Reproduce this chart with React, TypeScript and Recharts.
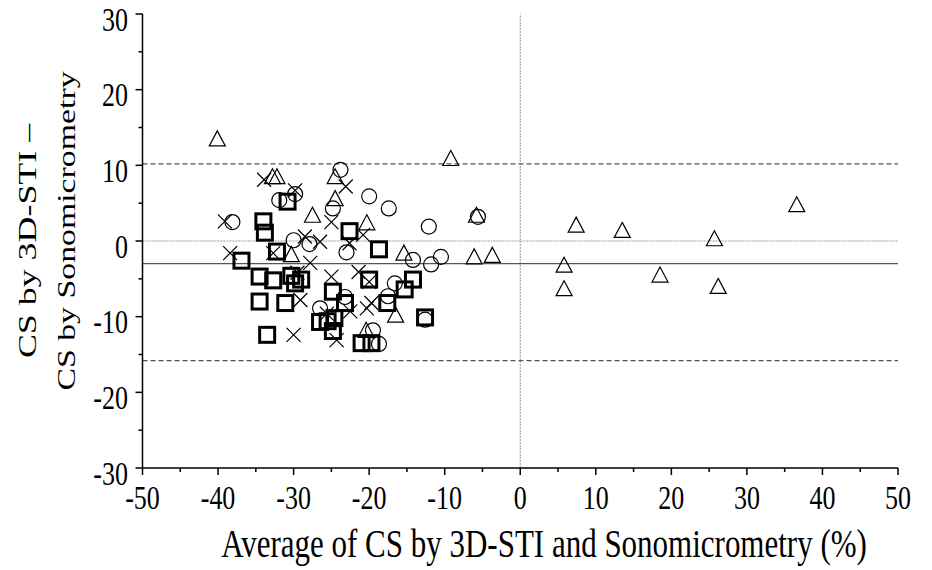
import React from 'react';
import { ScatterChart, Scatter, XAxis, YAxis, ReferenceLine } from 'recharts';

const triangles: [number, number][] = [
  [-40.1, 13.5], [-32.8, 8.5], [-32.2, 8.5], [-27.5, 3.4], [-24.5, 8.5], [-24.5, 5.6],
  [-30.3, -1.8], [-9.2, 10.9], [-20.3, 2.4], [-5.8, 3.4], [-15.4, -1.6], [-6.1, -2.1],
  [-3.7, -1.9], [-16.5, -9.8], [-20.4, -11.8], [7.4, 2.1], [13.5, 1.4], [25.7, 0.3],
  [36.6, 4.8], [5.8, -3.2], [5.8, -6.3], [18.5, -4.5], [26.2, -6.0],
];
const circles: [number, number][] = [
  [-38.1, 2.5], [-31.9, 5.4], [-29.8, 6.2], [-30.0, 0.1], [-27.9, -0.4], [-23.8, 9.4],
  [-24.8, 4.3], [-26.5, -8.9], [-23.0, -1.5], [-20.0, 5.9], [-17.4, 4.3], [-12.1, 1.9],
  [-14.2, -2.5], [-11.8, -3.1], [-10.5, -2.1], [-16.6, -5.6], [-17.5, -7.3], [-23.2, -7.4],
  [-12.6, -10.4], [-19.5, -11.8], [-18.7, -13.6], [-5.6, 3.2],
];
const crosses: [number, number][] = [
  [-39.1, 2.6], [-33.9, 8.1], [-29.8, 6.7], [-38.4, -1.6], [-28.5, 0.6], [-26.5, -0.1],
  [-27.8, -2.9], [-25.0, 2.5], [-32.7, -1.6], [-25.0, -4.7], [-29.1, -7.8], [-30.0, -12.4],
  [-25.6, -9.6], [-24.3, -13.1], [-23.1, 7.2], [-20.8, 0.8], [-22.6, -0.3], [-21.4, -4.1],
  [-20.0, -5.4], [-19.7, -8.2], [-20.3, -8.9], [-22.5, -9.3], [-29.5, -4.2],
];
const squares: [number, number][] = [
  [-30.8, 5.2], [-34.0, 2.6], [-33.8, 1.1], [-32.2, -1.4], [-36.9, -2.6], [-34.5, -4.7],
  [-32.7, -5.2], [-30.3, -4.6], [-29.0, -5.1], [-29.8, -5.6], [-34.5, -8.0], [-31.1, -8.2],
  [-33.5, -12.4], [-24.8, -6.7], [-26.5, -10.7], [-25.5, -10.6], [-24.6, -10.2], [-24.8, -11.9],
  [-23.2, -8.2], [-22.6, 1.3], [-18.7, -1.1], [-20.0, -5.1], [-14.2, -5.1], [-15.3, -6.4],
  [-17.6, -8.2], [-12.6, -10.1], [-21.0, -13.5], [-19.7, -13.5],
];

const xTicks = [-50, -45, -40, -35, -30, -25, -20, -15, -10, -5, 0, 5, 10, 15, 20, 25, 30, 35, 40, 45, 50];
const yTicks = [-30, -25, -20, -15, -10, -5, 0, 5, 10, 15, 20, 25, 30];
const meanDiff = -3.0;
const upperLoA = 10.2;
const lowerLoA = -15.8;

const xTitle = 'Average of CS by 3D-STI and Sonomicrometry (%)';
const yTitle1 = 'CS by 3D-STI –';
const yTitle2 = 'CS by Sonomicrometry';

const FONT = '"Liberation Serif", "Times New Roman", serif';
const TICK_FS = 26;
const STRETCH = 1.3;

const toPts = (a: [number, number][]) => a.map(([x, y]) => ({ x, y }));

const XTick = (props: any) => {
  const { x, y, payload } = props;
  const v = payload.value;
  const major = v % 10 === 0;
  return (
    <g>
      <line x1={x} x2={x} y1={y} y2={y + (major ? 7 : 4)} stroke="#000" strokeWidth={1.5} />
      {major && (
        <text transform={`translate(${x},${y + 40.5}) scale(1,${STRETCH})`} textAnchor="middle" fontFamily={FONT} fontSize={TICK_FS} fill="#000">
          {v}
        </text>
      )}
    </g>
  );
};

const YTick = (props: any) => {
  const { x, y, payload } = props;
  const v = payload.value;
  const major = v % 10 === 0;
  return (
    <g>
      <line x1={x - (major ? 7 : 4)} x2={x} y1={y} y2={y} stroke="#000" strokeWidth={1.5} />
      {major && (
        <text transform={`translate(${x - 14.5},${y + 16.5})  scale(1,${STRETCH})`} textAnchor="end" fontFamily={FONT} fontSize={TICK_FS} fill="#000">
          {v}
        </text>
      )}
    </g>
  );
};

const Tri = (p: any) => {
  const { cx, cy } = p;
  return (
    <path d={`M${cx},${cy - 8} L${cx + 8},${cy + 7} L${cx - 8},${cy + 7} Z`} fill="none" stroke="#000" strokeWidth={1.2} />
  );
};
const Circ = (p: any) => <circle cx={p.cx} cy={p.cy} r={7.5} fill="none" stroke="#000" strokeWidth={1.2} />;
const Cross = (p: any) => {
  const { cx, cy } = p;
  return (
    <path d={`M${cx - 7},${cy - 7} L${cx + 7},${cy + 7} M${cx - 7},${cy + 7} L${cx + 7},${cy - 7}`} stroke="#000" strokeWidth={1.2} fill="none" />
  );
};
const Sq = (p: any) => <rect x={p.cx - 7.5} y={p.cy - 7.5} width={15} height={15} fill="none" stroke="#000" strokeWidth={3} />;

export default function App() {
  return (
    <div style={{ position: 'absolute', left: 0, top: 0, width: 932, height: 570, background: '#fff' }}>
      <ScatterChart width={932} height={570} margin={{ top: 14, right: 34, bottom: 0, left: 0 }}>
        <XAxis
          type="number"
          dataKey="x"
          domain={[-50, 50]}
          ticks={xTicks}
          interval={0}
          tickSize={0}
          tickMargin={0}
          tickLine={false}
          tick={<XTick />}
          height={102}
          axisLine={{ stroke: '#000', strokeWidth: 1.5 }}
          allowDataOverflow
        />
        <YAxis
          type="number"
          dataKey="y"
          domain={[-30, 30]}
          ticks={yTicks}
          interval={0}
          tickSize={0}
          tickMargin={0}
          tickLine={false}
          tick={<YTick />}
          width={142.5}
          axisLine={{ stroke: '#000', strokeWidth: 1.5 }}
          allowDataOverflow
        />
        <ReferenceLine x={0} stroke="#999" strokeDasharray="2 1" strokeWidth={1} />
        <ReferenceLine y={0} stroke="#999" strokeDasharray="2 1" strokeWidth={1} />
        <ReferenceLine y={upperLoA} stroke="#555" strokeDasharray="5 3" strokeWidth={1.2} />
        <ReferenceLine y={lowerLoA} stroke="#555" strokeDasharray="5 3" strokeWidth={1.2} />
        <ReferenceLine y={meanDiff} stroke="#555" strokeWidth={1.3} />
        <Scatter data={toPts(triangles)} shape={<Tri />} isAnimationActive={false} />
        <Scatter data={toPts(circles)} shape={<Circ />} isAnimationActive={false} />
        <Scatter data={toPts(crosses)} shape={<Cross />} isAnimationActive={false} />
        <Scatter data={toPts(squares)} shape={<Sq />} isAnimationActive={false} />
      </ScatterChart>
      <svg width={932} height={570} style={{ position: 'absolute', left: 0, top: 0, pointerEvents: 'none' }}>
        <text transform={`translate(544,557) scale(1,${STRETCH})`} textAnchor="middle" fontFamily={FONT} fontSize={31} fill="#000">{xTitle}</text>
        <text transform={`translate(36,241) rotate(-90) scale(1.38,1)`} textAnchor="middle" fontFamily={FONT} fontSize={26} fill="#000">{yTitle1}</text>
        <text transform={`translate(75,231) rotate(-90) scale(${STRETCH},1)`} textAnchor="middle" fontFamily={FONT} fontSize={26} fill="#000">{yTitle2}</text>
      </svg>
    </div>
  );
}
